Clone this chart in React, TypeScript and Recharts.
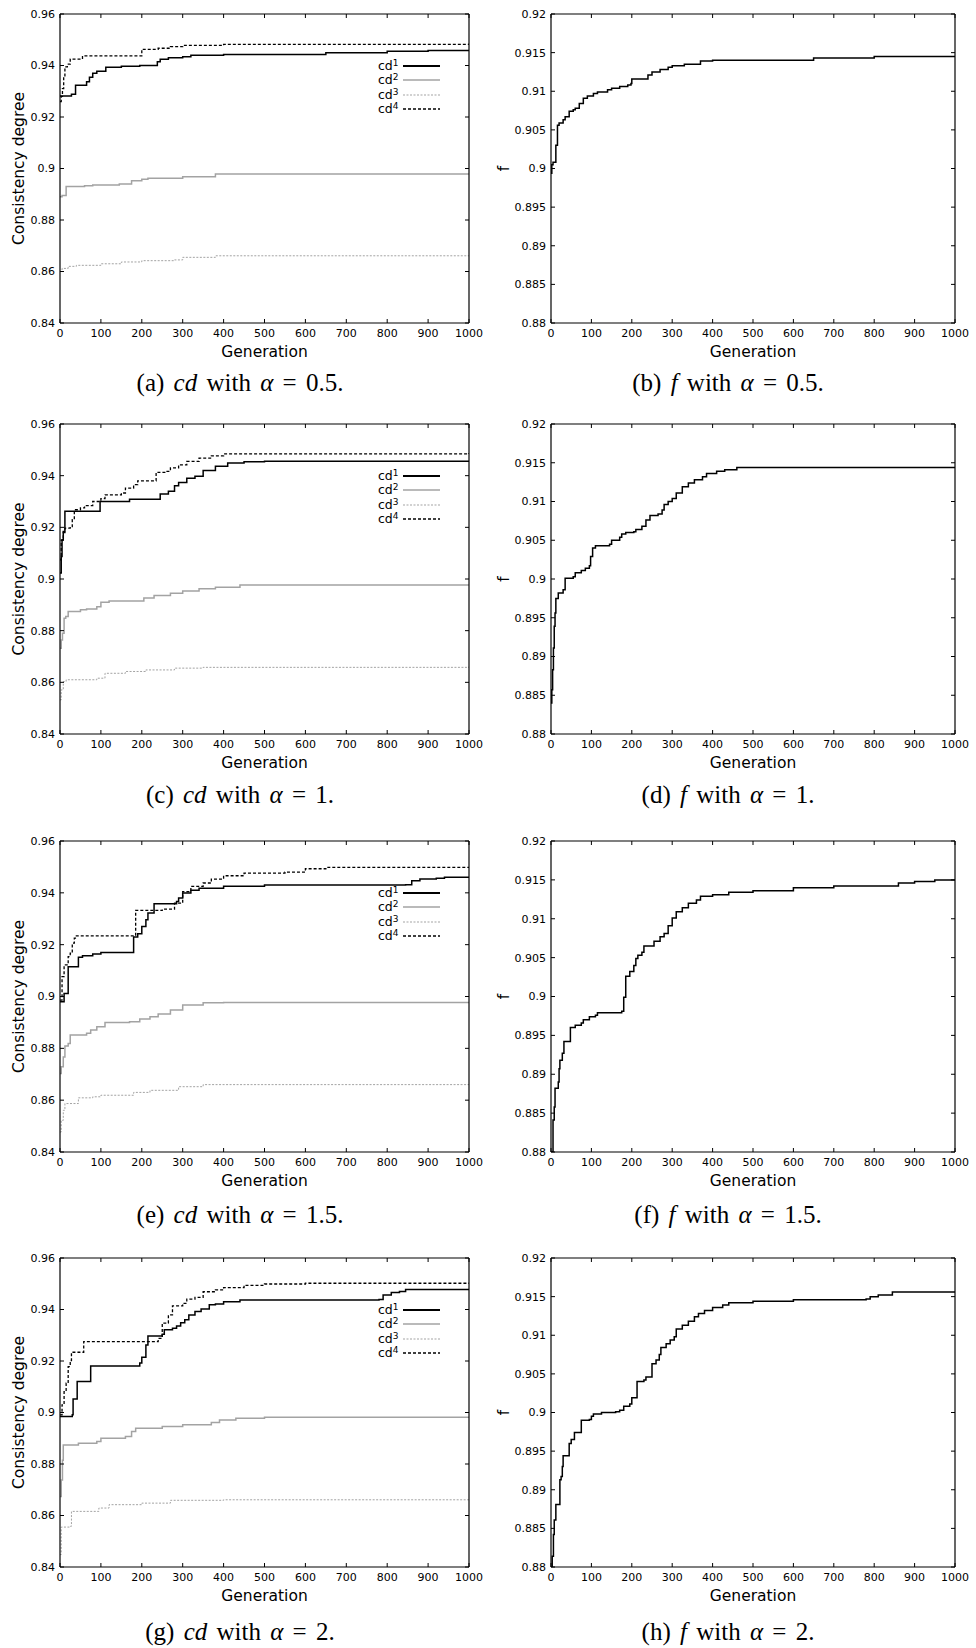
import React from "react";
import { LineChart, Line, XAxis, YAxis, Legend } from "recharts";

type Pt = [number, number];

const genTicks = [0, 100, 200, 300, 400, 500, 600, 700, 800, 900, 1000];
const cdTicks = [0.84, 0.86, 0.88, 0.9, 0.92, 0.94, 0.96];
const fTicks = [0.88, 0.885, 0.89, 0.895, 0.9, 0.905, 0.91, 0.915, 0.92];

// alpha = 0.5
const a1: Pt[] = [[0, 0.9282], [28, 0.9288], [38, 0.9323], [65, 0.9337], [72, 0.9354], [80, 0.937], [90, 0.9378], [112, 0.9393], [150, 0.9397], [195, 0.94], [238, 0.9415], [245, 0.9424], [265, 0.943], [300, 0.9434], [320, 0.944], [400, 0.9443], [650, 0.945], [800, 0.9455], [900, 0.9458], [1000, 0.9458]];
const a2: Pt[] = [[0, 0.889], [5, 0.8895], [15, 0.893], [60, 0.8933], [80, 0.8936], [145, 0.894], [175, 0.8952], [200, 0.8958], [215, 0.8962], [300, 0.8968], [380, 0.8979], [1000, 0.8979]];
const a3: Pt[] = [[0, 0.86], [5, 0.8612], [20, 0.862], [40, 0.8624], [100, 0.863], [150, 0.8637], [200, 0.8642], [280, 0.8645], [300, 0.8655], [380, 0.8661], [1000, 0.8661]];
const a4: Pt[] = [[0, 0.926], [3, 0.928], [6, 0.931], [9, 0.9355], [12, 0.9395], [18, 0.9405], [25, 0.9425], [55, 0.9437], [200, 0.9463], [240, 0.9467], [270, 0.9473], [300, 0.9478], [400, 0.9482], [1000, 0.9485]];
const fA: Pt[] = [[0, 0.8994], [2, 0.9005], [5, 0.9008], [12, 0.903], [16, 0.9056], [20, 0.9059], [30, 0.9063], [35, 0.9067], [45, 0.9074], [55, 0.9076], [60, 0.9078], [70, 0.9084], [80, 0.9091], [90, 0.9094], [105, 0.9097], [115, 0.9099], [140, 0.9102], [150, 0.9104], [170, 0.9106], [190, 0.9108], [198, 0.911], [200, 0.9116], [240, 0.9121], [250, 0.9125], [270, 0.9128], [290, 0.9131], [300, 0.9133], [330, 0.9135], [370, 0.9139], [400, 0.914], [650, 0.9143], [800, 0.9145], [1000, 0.9146]];

// alpha = 1
const c1: Pt[] = [[0, 0.9023], [3, 0.9087], [5, 0.9152], [8, 0.9184], [12, 0.9262], [98, 0.93], [170, 0.9309], [245, 0.9329], [265, 0.934], [280, 0.9361], [290, 0.9374], [310, 0.939], [330, 0.9398], [350, 0.942], [380, 0.9436], [410, 0.9449], [450, 0.9454], [500, 0.9456], [1000, 0.9458]];
const c2: Pt[] = [[0, 0.8732], [3, 0.8764], [6, 0.879], [10, 0.8848], [14, 0.8855], [20, 0.8874], [50, 0.8881], [65, 0.8884], [90, 0.8893], [100, 0.891], [120, 0.8915], [205, 0.8926], [230, 0.8936], [270, 0.8945], [300, 0.8954], [340, 0.8962], [380, 0.8968], [440, 0.8977], [1000, 0.898]];
const c3: Pt[] = [[0, 0.8532], [3, 0.8571], [8, 0.8603], [15, 0.861], [90, 0.8616], [110, 0.8635], [160, 0.8642], [210, 0.8648], [280, 0.8655], [350, 0.8658], [1000, 0.8661]];
const c4: Pt[] = [[0, 0.9074], [3, 0.915], [8, 0.918], [12, 0.9197], [25, 0.9203], [30, 0.923], [35, 0.9268], [50, 0.9275], [60, 0.9284], [80, 0.93], [100, 0.9311], [110, 0.9326], [150, 0.9333], [160, 0.9352], [180, 0.9365], [190, 0.938], [235, 0.9413], [260, 0.9417], [270, 0.943], [290, 0.9442], [310, 0.9455], [340, 0.9468], [370, 0.9477], [400, 0.9484], [1000, 0.9488]];
const fC: Pt[] = [[0, 0.884], [2, 0.8857], [4, 0.8883], [6, 0.8911], [8, 0.8939], [10, 0.8956], [12, 0.8975], [18, 0.8982], [30, 0.8986], [35, 0.9001], [55, 0.9003], [60, 0.9008], [75, 0.9011], [85, 0.9014], [95, 0.9017], [98, 0.9029], [103, 0.904], [110, 0.9043], [145, 0.9045], [150, 0.905], [170, 0.9054], [175, 0.9058], [185, 0.906], [205, 0.9061], [210, 0.9064], [225, 0.9068], [235, 0.9076], [245, 0.9082], [265, 0.9084], [275, 0.9089], [280, 0.9096], [290, 0.91], [300, 0.9104], [310, 0.9111], [325, 0.9119], [340, 0.9124], [355, 0.9128], [375, 0.9132], [385, 0.9136], [410, 0.9139], [430, 0.9141], [460, 0.9144], [1000, 0.9145]];

// alpha = 1.5
const e1: Pt[] = [[0, 0.898], [10, 0.9012], [20, 0.9115], [45, 0.9151], [55, 0.9157], [80, 0.9164], [100, 0.917], [180, 0.923], [190, 0.9242], [200, 0.927], [210, 0.9296], [215, 0.9322], [230, 0.9358], [285, 0.9367], [290, 0.938], [300, 0.9399], [320, 0.941], [340, 0.9418], [400, 0.9425], [500, 0.943], [845, 0.9431], [860, 0.9447], [880, 0.9453], [920, 0.9456], [940, 0.946], [1000, 0.946]];
const e2: Pt[] = [[0, 0.8703], [3, 0.8729], [8, 0.8767], [12, 0.8809], [20, 0.8819], [25, 0.8851], [65, 0.8858], [75, 0.8871], [90, 0.8883], [110, 0.89], [170, 0.8903], [195, 0.8913], [220, 0.8922], [240, 0.8932], [270, 0.8948], [300, 0.8967], [350, 0.8976], [400, 0.8977], [1000, 0.898]];
const e3: Pt[] = [[0, 0.8477], [3, 0.8522], [8, 0.8561], [12, 0.8587], [45, 0.8609], [80, 0.8613], [100, 0.8619], [180, 0.863], [220, 0.8638], [290, 0.8652], [350, 0.866], [1000, 0.8663]];
const e4: Pt[] = [[0, 0.8986], [5, 0.9077], [10, 0.9122], [20, 0.9154], [25, 0.9167], [30, 0.9206], [35, 0.9225], [40, 0.9234], [185, 0.9332], [250, 0.9337], [280, 0.936], [300, 0.9405], [320, 0.9425], [350, 0.9438], [370, 0.9453], [400, 0.9466], [450, 0.9476], [550, 0.948], [600, 0.9493], [650, 0.9498], [1000, 0.9501]];
const fE: Pt[] = [[0, 0.88], [5, 0.8841], [8, 0.8858], [10, 0.8882], [18, 0.889], [20, 0.8907], [22, 0.8918], [28, 0.8927], [32, 0.8942], [48, 0.896], [60, 0.8963], [75, 0.8966], [80, 0.897], [95, 0.8974], [110, 0.8976], [115, 0.8979], [175, 0.8981], [180, 0.8999], [185, 0.9026], [195, 0.9032], [205, 0.904], [210, 0.9049], [215, 0.9053], [225, 0.9057], [230, 0.9065], [255, 0.9071], [270, 0.9077], [280, 0.9081], [290, 0.9091], [300, 0.9101], [310, 0.9109], [325, 0.9114], [340, 0.912], [360, 0.9124], [370, 0.9129], [400, 0.9131], [440, 0.9134], [500, 0.9136], [600, 0.914], [700, 0.9142], [860, 0.9146], [900, 0.9148], [950, 0.915], [1000, 0.915]];

// alpha = 2
const g1: Pt[] = [[0, 0.8984], [30, 0.8991], [32, 0.9052], [42, 0.912], [75, 0.9181], [195, 0.9192], [200, 0.9215], [210, 0.9262], [215, 0.9297], [250, 0.9304], [255, 0.9321], [275, 0.9327], [285, 0.9336], [295, 0.9349], [305, 0.936], [315, 0.9379], [330, 0.9392], [345, 0.9402], [365, 0.9418], [380, 0.9421], [400, 0.943], [440, 0.9437], [780, 0.9439], [790, 0.9456], [810, 0.9466], [830, 0.947], [845, 0.9478], [1000, 0.9478]];
const g2: Pt[] = [[0, 0.8674], [3, 0.8738], [6, 0.8815], [8, 0.8874], [45, 0.8881], [90, 0.8887], [100, 0.89], [160, 0.8907], [175, 0.8926], [185, 0.8939], [250, 0.8946], [300, 0.8952], [370, 0.8961], [390, 0.8971], [430, 0.8978], [500, 0.8982], [1000, 0.8984]];
const g3: Pt[] = [[0, 0.8448], [3, 0.8555], [25, 0.8558], [28, 0.8616], [95, 0.8629], [120, 0.8642], [200, 0.8648], [270, 0.8659], [400, 0.8661], [1000, 0.8661]];
const g4: Pt[] = [[0, 0.8991], [5, 0.903], [10, 0.9081], [15, 0.9114], [20, 0.9178], [25, 0.9202], [28, 0.9234], [58, 0.9275], [240, 0.9288], [250, 0.9347], [265, 0.9379], [275, 0.9414], [300, 0.9424], [310, 0.944], [330, 0.9447], [350, 0.9469], [380, 0.9476], [400, 0.9485], [450, 0.9494], [500, 0.9499], [600, 0.9502], [1000, 0.9504]];
const fG: Pt[] = [[0, 0.88], [3, 0.8814], [6, 0.8842], [8, 0.8861], [12, 0.8881], [22, 0.8913], [25, 0.8917], [28, 0.893], [30, 0.8944], [45, 0.896], [50, 0.8965], [58, 0.8974], [75, 0.899], [95, 0.8991], [100, 0.8995], [105, 0.8998], [125, 0.9], [160, 0.9001], [170, 0.9003], [180, 0.9008], [195, 0.9011], [200, 0.9019], [213, 0.904], [230, 0.9042], [235, 0.9046], [250, 0.9063], [260, 0.9068], [268, 0.9075], [272, 0.9084], [285, 0.9089], [295, 0.9094], [305, 0.9098], [310, 0.9108], [325, 0.9113], [340, 0.9118], [355, 0.9124], [365, 0.9128], [380, 0.9132], [400, 0.9136], [425, 0.9139], [440, 0.9142], [500, 0.9144], [600, 0.9146], [780, 0.9147], [790, 0.915], [810, 0.9152], [845, 0.9156], [1000, 0.9156]];

const alphas = ["0.5", "1", "1.5", "2"];
const cdSeries = [[a1, a2, a3, a4], [c1, c2, c3, c4], [e1, e2, e3, e4], [g1, g2, g3, g4]];
const fSeries = [fA, fC, fE, fG];

const rowTops = [14, 424, 841, 1258];
const plotHeights = [309, 310, 311, 309];
const captionYs = [383, 795, 1215, 1632];

const SANS = '"DejaVu Sans", Verdana, sans-serif';
const SERIF = '"Liberation Serif", "Times New Roman", serif';

const cdStyle: Record<string, { stroke: string; width: number; dash?: string; legendWidth: number }> = {
  cd1: { stroke: "#000", width: 1.5, legendWidth: 2 },
  cd2: { stroke: "#a3a3a3", width: 1.5, legendWidth: 1.5 },
  cd3: { stroke: "#a3a3a3", width: 1, dash: "2 1.5", legendWidth: 1 },
  cd4: { stroke: "#000", width: 1.3, dash: "3 2", legendWidth: 1.5 },
};

const toRows = (pts: Pt[]) => pts.map(([g, v]) => ({ g, v }));
const fmtTick = (v: number) => String(Number(v.toFixed(3)));
const blank = () => "";

const tickStyle = { fontSize: 11, fill: "#000", fontFamily: SANS };

const yTitle = (text: string, cx: number) => (props: any) => {
  const vb = props.viewBox;
  const cy = vb.y + vb.height / 2;
  return (
    <text x={cx} y={cy} transform={`rotate(-90 ${cx} ${cy})`} textAnchor="middle"
      dominantBaseline="central" fontSize={15.5} fontFamily={SANS} fill="#000">
      {text}
    </text>
  );
};

const xTitle = (props: any) => {
  const vb = props.viewBox;
  return (
    <text x={vb.x + vb.width / 2} y={vb.y + 34} textAnchor="middle" fontSize={15.5}
      fontFamily={SANS} fill="#000">
      Generation
    </text>
  );
};

function CdLegend(props: any) {
  const items = [...(props.payload || [])].sort((a: any, b: any) => String(a.value).localeCompare(String(b.value)));
  return (
    <div style={{ fontFamily: SANS, fontSize: 12.5, color: "#000" }}>
      {items.map((it: any) => {
        const s = cdStyle[it.value];
        return (
          <div key={it.value} style={{ display: "flex", alignItems: "center", height: 14.3 }}>
            <span style={{ width: 25, lineHeight: "14px" }}>
              cd<sup style={{ fontSize: 9, verticalAlign: "4px", lineHeight: 0 }}>{String(it.value).slice(2)}</sup>
            </span>
            <svg width={38} height={6}>
              <line x1={0} y1={3} x2={37} y2={3} stroke={s.stroke} strokeWidth={s.legendWidth} strokeDasharray={s.dash} />
            </svg>
          </div>
        );
      })}
    </div>
  );
}

function Panel({ col, row, kind }: { col: number; row: number; kind: "cd" | "f" }) {
  const plotTop = rowTops[row];
  const plotH = plotHeights[row];
  const yTicks = kind === "cd" ? cdTicks : fTicks;
  const yDomain: [number, number] = kind === "cd" ? [0.84, 0.96] : [0.88, 0.92];
  const yAxisWidth = col === 0 ? 60 : 63;
  const rightMargin = col === 0 ? 18 : 20;
  const series = kind === "cd" ? cdSeries[row] : [fSeries[row]];
  const axisLine = { stroke: "#000", strokeWidth: 1.2 };
  const tickLine = { stroke: "#000", strokeWidth: 1 };
  return (
    <div style={{ position: "absolute", left: col * 488, top: plotTop - 14 }}>
      <LineChart width={488} height={14 + plotH + 40} margin={{ top: 13, right: rightMargin, bottom: 0, left: 0 }}>
        <XAxis dataKey="g" type="number" domain={[0, 1000]} ticks={genTicks} interval={0}
          allowDataOverflow height={40} tickSize={-4} tickMargin={10.5} tick={tickStyle}
          axisLine={axisLine} tickLine={tickLine} label={{ content: xTitle }} />
        <XAxis xAxisId="top" orientation="top" dataKey="g" type="number" domain={[0, 1000]}
          ticks={genTicks} interval={0} allowDataOverflow height={1} tickSize={-4}
          tickFormatter={blank} axisLine={axisLine} tickLine={tickLine} />
        <YAxis type="number" domain={yDomain} ticks={yTicks} interval={0} allowDataOverflow
          width={yAxisWidth} tickSize={-4} tickMargin={9} tick={tickStyle} tickFormatter={fmtTick}
          axisLine={axisLine} tickLine={tickLine}
          label={{ content: yTitle(kind === "cd" ? "Consistency degree" : "f", col === 0 ? 18.5 : 16) }} />
        <YAxis yAxisId="r" orientation="right" type="number" domain={yDomain} ticks={yTicks}
          interval={0} allowDataOverflow width={1} tickSize={-4} tickFormatter={blank}
          axisLine={axisLine} tickLine={tickLine} />
        {series.map((pts, i) => {
          const name = kind === "cd" ? `cd${i + 1}` : "f";
          const s = kind === "cd" ? cdStyle[name] : { stroke: "#000", width: 1.5, dash: undefined };
          return (
            <Line key={name} name={name} data={toRows(pts)} dataKey="v" type="stepAfter"
              stroke={s.stroke} strokeWidth={s.width} strokeDasharray={s.dash}
              dot={false} activeDot={false} isAnimationActive={false} />
          );
        })}
        {kind === "cd" && (
          <Legend layout="horizontal" verticalAlign="middle" align="center" content={<CdLegend />}
            wrapperStyle={{ position: "absolute", left: 378, top: 59, width: 70 }} />
        )}
      </LineChart>
    </div>
  );
}

function Caption({ col, row, letter, sym }: { col: number; row: number; letter: string; sym: string }) {
  const cx = col === 0 ? 240 : 728;
  return (
    <div style={{ position: "absolute", left: cx - 200, width: 400, top: captionYs[row] - 13, height: 26,
      lineHeight: "26px", fontSize: 25, fontFamily: SERIF, textAlign: "center", color: "#000",
      whiteSpace: "pre", wordSpacing: 3 }}>
      ({letter}) <i>{sym}</i> with <i>α</i> = {alphas[row]}.
    </div>
  );
}

export default function App() {
  const letters = [["a", "b"], ["c", "d"], ["e", "f"], ["g", "h"]];
  return (
    <div style={{ position: "absolute", left: 0, top: 0, width: 976, height: 1648, background: "#fff", overflow: "hidden" }}>
      {[0, 1, 2, 3].map((row) => (
        <React.Fragment key={row}>
          <Panel col={0} row={row} kind="cd" />
          <Panel col={1} row={row} kind="f" />
          <Caption col={0} row={row} letter={letters[row][0]} sym="cd" />
          <Caption col={1} row={row} letter={letters[row][1]} sym="f" />
        </React.Fragment>
      ))}
    </div>
  );
}
